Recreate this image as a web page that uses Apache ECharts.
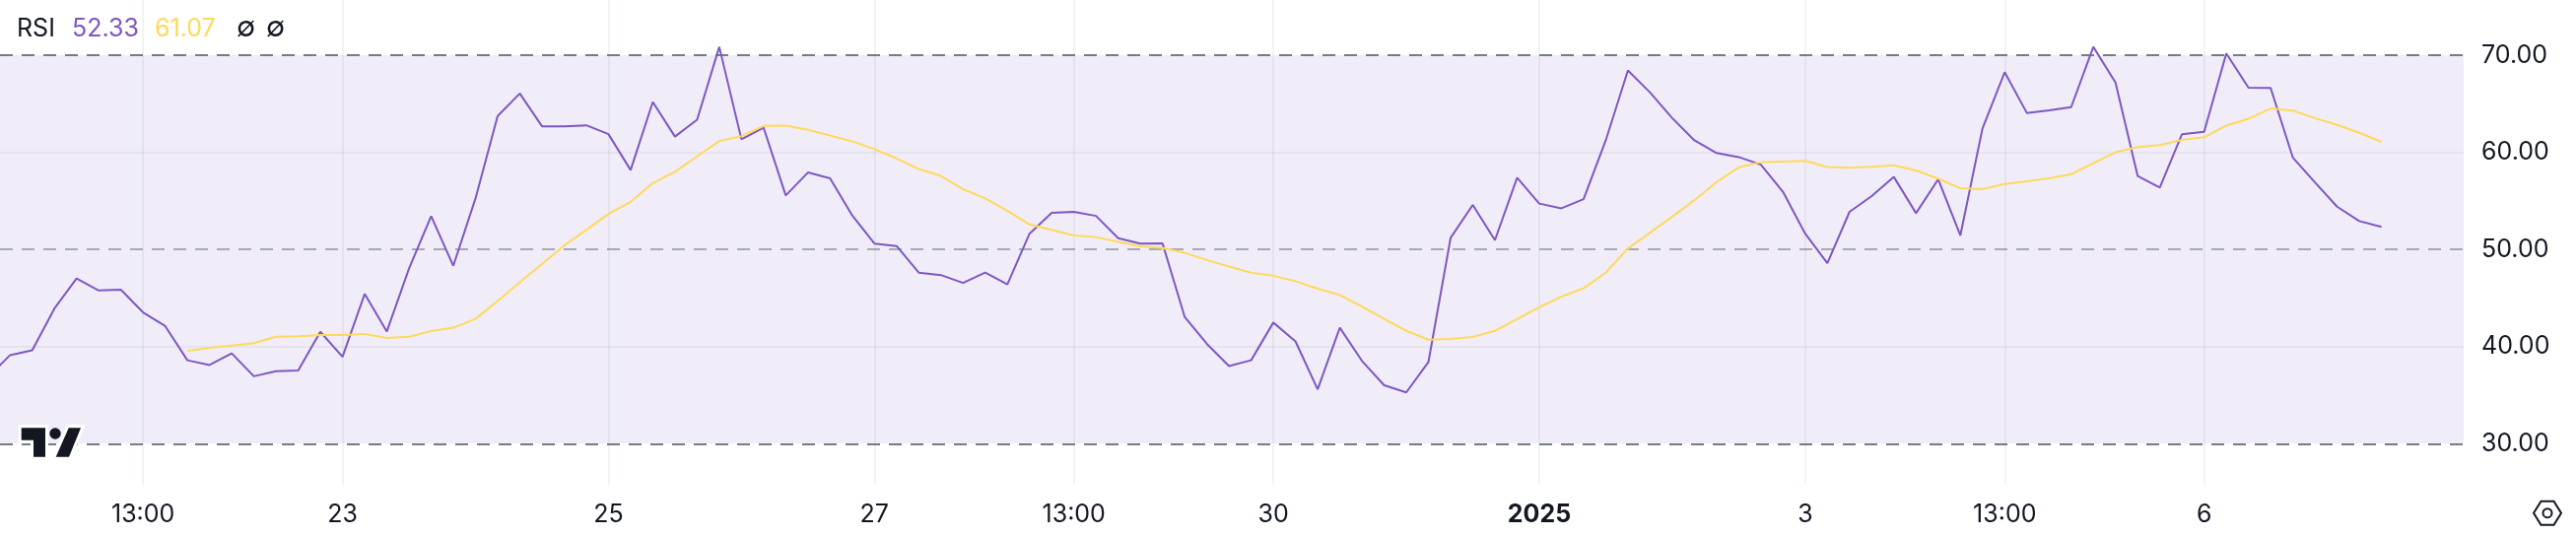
<!DOCTYPE html>
<html>
<head>
<meta charset="utf-8">
<style>
html, body { margin: 0; padding: 0; background: #fff; }
#container { width: 2614px; height: 544px; }
</style>
<script src="https://cdn.jsdelivr.net/npm/echarts@6/dist/echarts.min.js"></script>
</head>
<body>
<div id="container"></div>
<script>
// RSI per bar (first bar sits just left of the plot)
var rsi = [36.83, 39.12, 39.61, 43.91, 47.01, 45.77, 45.85, 43.52, 42.11, 38.59,
    38.10, 39.30, 36.94, 37.47, 37.54, 41.52, 38.95, 45.42, 41.55, 48.03,
    53.42, 48.31, 55.25, 63.73, 66.06, 62.68, 62.68, 62.78, 61.87, 58.17,
    65.18, 61.62, 63.35, 70.85, 61.34, 62.54, 55.56, 57.92, 57.32, 53.49,
    50.60, 50.35, 47.61, 47.36, 46.55, 47.61, 46.41, 51.62, 53.77, 53.87,
    53.45, 51.16, 50.60, 50.63, 43.06, 40.28, 37.99, 38.59, 42.47, 40.53,
    35.60, 41.94, 38.52, 36.02, 35.28, 38.42, 51.20, 54.58, 50.95, 57.39,
    54.72, 54.23, 55.18, 61.23, 68.42, 66.16, 63.52, 61.23, 59.93, 59.51,
    58.73, 55.92, 51.62, 48.59, 53.87, 55.49, 57.46, 53.73, 57.22, 51.44,
    62.46, 68.24, 64.05, 64.33, 64.65, 70.85, 67.18, 57.57, 56.37, 61.87,
    62.11, 70.18, 66.65, 66.62, 59.47, 56.90, 54.40, 52.92, 52.33];

// RSI moving average, starts later than the RSI itself
var rsiMa = [null, null, null, null, null, null, null, null, null,
    39.54, 39.86, 40.11, 40.35, 41.02, 41.06, 41.20, 41.20, 41.30, 40.88,
    41.02, 41.59, 41.94, 42.85, 44.68, 46.62, 48.49, 50.39, 52.01, 53.66,
    54.89, 56.83, 57.99, 59.58, 61.16, 61.66, 62.71, 62.75, 62.32, 61.73,
    61.13, 60.32, 59.37, 58.28, 57.57, 56.20, 55.25, 53.98, 52.57, 52.01,
    51.44, 51.27, 50.78, 50.32, 50.14, 49.65, 48.91, 48.24, 47.61, 47.29,
    46.73, 45.95, 45.32, 44.12, 42.85, 41.62, 40.71, 40.78, 40.99, 41.62,
    42.82, 44.05, 45.14, 45.99, 47.61, 50.11, 51.73, 53.38, 55.07, 56.94,
    58.45, 58.98, 59.05, 59.12, 58.49, 58.42, 58.52, 58.66, 58.13, 57.29,
    56.30, 56.20, 56.73, 57.01, 57.32, 57.75, 58.87, 60.00, 60.53, 60.74,
    61.27, 61.55, 62.75, 63.45, 64.51, 64.30, 63.52, 62.82, 62.01, 61.07];

var tickBars = [7, 16, 28, 40, 49, 58, 70, 82, 91, 100];
var tickLabels = ['13:00', '23', '25', '27', '13:00', '30', '2025', '3', '13:00', '6'];
var yLabels = [30, 40, 50, 60, 70];

var font = 'Inter';
var textColor = '#131722';
var purple = '#7e57c2';
var yellow = '#ffd95c';

function withBar(values) {
    return values.map(function (v, i) { return [i, v]; });
}

var myChart = echarts.init(document.getElementById('container'));

var option = {
    animation: false,
    backgroundColor: '#fff',
    grid: { left: 0, right: 114, top: 0, height: 492 },
    xAxis: {
        type: 'value',
        min: 0.545,
        max: 111.71,
        axisLine: { show: false },
        axisTick: { show: false, customValues: tickBars },
        axisLabel: {
            customValues: tickBars,
            margin: 18,
            fontFamily: font,
            fontSize: 25,
            color: textColor,
            formatter: function (v) {
                var s = tickLabels[tickBars.indexOf(v)];
                return s === '2025' ? '{b|' + s + '}' : s;
            },
            rich: { b: { fontFamily: font, fontSize: 25, fontWeight: 'bold', color: textColor } }
        },
        splitLine: { show: true, lineStyle: { color: 'rgba(42,46,57,0.06)', width: 2 } }
    },
    yAxis: {
        type: 'value',
        position: 'right',
        min: 25.77,
        max: 75.68,
        axisLine: { show: false },
        axisTick: { show: false, customValues: [40, 60] },
        axisLabel: {
            customValues: yLabels,
            margin: 18,
            fontFamily: font,
            fontSize: 25,
            color: textColor,
            formatter: function (v) { return v.toFixed(2); }
        },
        splitLine: { show: true, lineStyle: { color: 'rgba(42,46,57,0.05)', width: 2 } }
    },
    series: [
        {
            type: 'line',
            name: 'RSI',
            data: withBar(rsi),
            showSymbol: false,
            lineStyle: { color: purple, width: 2 },
            z: 5,
            markArea: {
                silent: true,
                itemStyle: { color: 'rgba(90,60,180,0.09)' },
                data: [[{ yAxis: 30 }, { yAxis: 70 }]]
            },
            markLine: {
                silent: true,
                symbol: 'none',
                label: { show: false },
                data: [
                    { yAxis: 70, lineStyle: { color: '#787b86', type: [13, 9], width: 2 } },
                    { yAxis: 50, lineStyle: { color: 'rgba(120,123,134,0.6)', type: [13, 9], width: 2 } },
                    { yAxis: 30, lineStyle: { color: '#787b86', type: [13, 9], width: 2 } }
                ]
            }
        },
        {
            type: 'line',
            name: 'RSI MA',
            data: withBar(rsiMa),
            showSymbol: false,
            connectNulls: false,
            lineStyle: { color: yellow, width: 2 },
            z: 6
        }
    ],
    graphic: [
        { type: 'text', left: 17, top: 17, style: { text: 'RSI', font: '25px ' + font, fill: textColor } },
        { type: 'text', left: 73, top: 17, style: { text: '52.33', font: '25px ' + font, fill: purple } },
        { type: 'text', left: 157, top: 17, style: { text: '61.07', font: '25px ' + font, fill: yellow } },
        { type: 'text', left: 240, top: 15, style: { text: '\u2205', font: '28px ' + font, fill: textColor } },
        { type: 'text', left: 270, top: 15, style: { text: '\u2205', font: '28px ' + font, fill: textColor } },
        // TradingView logo
        { type: 'polygon', z: 20, shape: { points: [[21.7, 434.3], [46, 434.3], [46, 463.7], [34, 463.7], [34, 446.7], [21.7, 446.7]] },
            style: { fill: textColor, stroke: '#fff', lineWidth: 6 } },
        { type: 'polygon', z: 20, shape: { points: [[69.7, 434.3], [82, 434.3], [70, 463.7], [56.7, 463.7]] },
            style: { fill: textColor, stroke: '#fff', lineWidth: 6 } },
        { type: 'polygon', z: 21, shape: { points: [[21.7, 434.3], [46, 434.3], [46, 463.7], [34, 463.7], [34, 446.7], [21.7, 446.7]] },
            style: { fill: textColor } },
        { type: 'polygon', z: 21, shape: { points: [[69.7, 434.3], [82, 434.3], [70, 463.7], [56.7, 463.7]] },
            style: { fill: textColor } },
        { type: 'circle', z: 21, shape: { cx: 56, cy: 440, r: 5.7 }, style: { fill: textColor } },
        // settings hexagon, bottom right
        { type: 'polygon', shape: { points: [[2571, 520.7], [2578.5, 508.7], [2591.5, 508.7], [2599, 520.7], [2591.5, 532.7], [2578.5, 532.7]] },
            style: { fill: 'none', stroke: textColor, lineWidth: 2 } },
        { type: 'circle', shape: { cx: 2585, cy: 520.7, r: 4.5 }, style: { fill: 'none', stroke: textColor, lineWidth: 2 } }
    ]
};

myChart.setOption(option);
</script>
</body>
</html>
